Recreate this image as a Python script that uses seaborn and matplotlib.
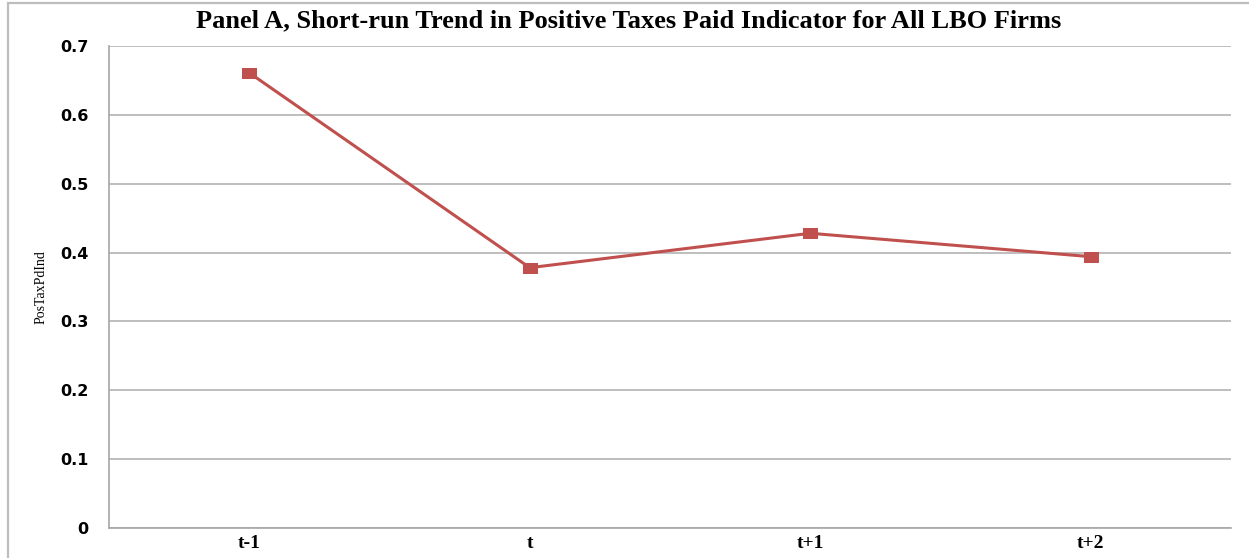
import matplotlib
matplotlib.use("Agg")
import matplotlib.pyplot as plt
import matplotlib.patches as mpatches
import seaborn as sns
import pandas as pd

# Short-run trend of the positive-taxes-paid indicator around the LBO year
periods = ["t-1", "t", "t+1", "t+2"]
pos_tax_paid = [0.661, 0.378, 0.428, 0.394]
y_ticks = [0, 0.1, 0.2, 0.3, 0.4, 0.5, 0.6, 0.7]
y_tick_labels = ["0", "0.1", "0.2", "0.3", "0.4", "0.5", "0.6", "0.7"]

df = pd.DataFrame({"period": periods, "PosTaxPdInd": pos_tax_paid})

sns.set_theme(style="white")
plt.rcParams["font.family"] = ["DejaVu Sans"]

fig = plt.figure(figsize=(12.49, 5.58), dpi=100)
ax = fig.add_axes([0.0873, 0.0538, 0.8983, 0.8638])

line_color = "#C0504D"
# slightly wide square marker
rect_marker = [(-1.0, -0.65), (1.0, -0.65), (1.0, 0.65), (-1.0, 0.65), (-1.0, -0.65)]
sns.lineplot(data=df, x="period", y="PosTaxPdInd", ax=ax, color=line_color,
             linewidth=2.2, marker=rect_marker, markersize=10,
             markeredgecolor=line_color, markerfacecolor=line_color, sort=False)

ax.set_xlim(-0.5, len(periods) - 0.5)
ax.set_ylim(0, 0.7)
ax.set_yticks(y_ticks)
ax.set_yticklabels(y_tick_labels, fontsize=11.5, fontweight="bold", color="black")
ax.set_xticks(range(len(periods)))
ax.set_xticklabels(periods, fontsize=14, fontweight="bold", family="Liberation Serif",
                   color="black")
ax.tick_params(axis="y", length=0, pad=15)
ax.tick_params(axis="x", length=0, pad=5)

ax.yaxis.grid(True, color="#b3b3b3", linewidth=1.2)
ax.set_axisbelow(True)
for side in ["top", "right"]:
    ax.spines[side].set_visible(False)
for side in ["left", "bottom"]:
    ax.spines[side].set_color("#a6a6a6")
    ax.spines[side].set_linewidth(1.2)

ax.set_xlabel("")
ax.set_ylabel("PosTaxPdInd", family="Liberation Serif", fontsize=10, color="black")
ax.yaxis.set_label_coords(-0.055, 0.5)

fig.text(0.503, 0.962, "Panel A, Short-run Trend in Positive Taxes Paid Indicator for All LBO Firms",
         ha="center", va="center", family="Liberation Serif", fontweight="bold", fontsize=19,
         color="black")

# outer chart frame
frame = mpatches.Rectangle((8 / 1249, -0.1), 1.2, (558 - 3) / 558 + 0.1,
                           transform=fig.transFigure, fill=False,
                           edgecolor="#bdbdbd", linewidth=1.6, clip_on=False)
fig.patches.append(frame)

fig.savefig("out.png", dpi=100)
